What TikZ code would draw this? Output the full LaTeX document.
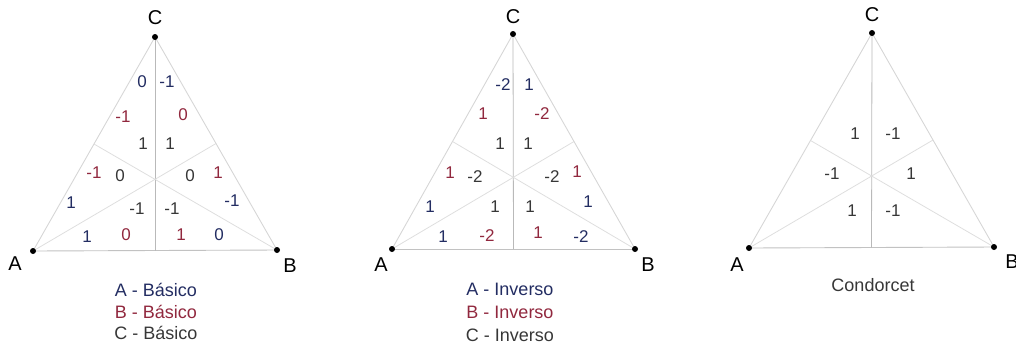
\documentclass[tikz,border=0pt]{standalone}
\usepackage{fontspec}
\setmainfont{Liberation Sans}
\usetikzlibrary{calc}

\definecolor{voteA}{RGB}{35,45,98}
\definecolor{voteB}{RGB}{145,40,62}
\definecolor{voteC}{RGB}{55,55,55}

\begin{document}
\begin{tikzpicture}[x=0.5pt, y=-0.5pt,
		% Côtés et médianes des triangles
		side/.style={draw=gray!32, line width=0.45pt},
		base/.style={draw=gray!48, line width=0.45pt},
		median/.style={draw=gray!26, line width=0.4pt},
		axis/.style={draw=gray!55, line width=0.4pt},
		% Sommets
		vdot/.style={circle, fill=black, inner sep=0pt, minimum size=3pt},
		vname/.style={font=\fontsize{10}{12}\selectfont, text=black},
		% Scores et légendes
		score/.style={font=\fontsize{8.5}{10}\selectfont, text=#1, inner sep=0pt},
		legend/.style={font=\fontsize{9}{11}\selectfont, text=#1}
		]
		\useasboundingbox (0,0) rectangle (1016,349);
		
		% --- TRIANGLE 1 : BASIQUE ---
		\coordinate (A1) at (33,251);
		\coordinate (B1) at (277,250);
		\coordinate (C1) at (155,37);
		\coordinate (mAB1) at ($(A1)!0.5!(B1)$);
		\coordinate (mBC1) at ($(B1)!0.5!(C1)$);
		\coordinate (mAC1) at ($(A1)!0.5!(C1)$);
		
		\draw[side] (A1) -- (C1) -- (B1);
		\draw[base] (A1) -- (B1);
		\draw[axis] (C1) -- (mAB1);
		\draw[median] (A1) -- (mBC1);
		\draw[median] (B1) -- (mAC1);
		
		\node[vdot] (A1d) at (A1) {};
		\node[vdot] (B1d) at (B1) {};
		\node[vdot] (C1d) at (C1) {};
		\node[vname] (A1l) at (15,264) {A};
		\node[vname] (B1l) at (290,266) {B};
		\node[vname] (C1l) at (155,18) {C};
		
		\foreach \x/\y/\v/\c [count=\i] in {142/82/0/voteA, 167/82/-1/voteA,
			123/117/-1/voteB, 183/115/0/voteB, 143/144/1/voteC, 170/144/1/voteC,
			94/173/-1/voteB, 120/176/0/voteC, 190/176/0/voteC, 218/173/1/voteB,
			71/203/1/voteA, 137/209/-1/voteC, 172/209/-1/voteC, 232/201/-1/voteA,
			87/237/1/voteA, 126/235/0/voteB, 181/235/1/voteB, 219/235/0/voteA}
		\node[score=\c] (s1-\i) at (\x,\y) {\v};
		
		\node[legend=voteA] (leg1a) at (156,290) {A - Básico};
		\node[legend=voteB] (leg1b) at (156,312) {B - Básico};
		\node[legend=voteC] (leg1c) at (156,333) {C - Básico};
		
		% --- TRIANGLE 2 : INVERSE ---
		\coordinate (A2) at (392,249);
		\coordinate (B2) at (635,249);
		\coordinate (C2) at (513,34);
		\coordinate (mAB2) at ($(A2)!0.5!(B2)$);
		\coordinate (mBC2) at ($(B2)!0.5!(C2)$);
		\coordinate (mAC2) at ($(A2)!0.5!(C2)$);
		
		\draw[side] (A2) -- (C2) -- (B2);
		\draw[base] (A2) -- (B2);
		\draw[axis] (C2) -- (mAB2);
		\draw[median] (A2) -- (mBC2);
		\draw[median] (B2) -- (mAC2);
		
		\node[vdot] (A2d) at (A2) {};
		\node[vdot] (B2d) at (B2) {};
		\node[vdot] (C2d) at (C2) {};
		\node[vname] (A2l) at (381,265) {A};
		\node[vname] (B2l) at (648,265) {B};
		\node[vname] (C2l) at (513,17) {C};
		
		\foreach \x/\y/\v/\c [count=\i] in {503/85/-2/voteA, 529/85/1/voteA,
			483/114/1/voteB, 542/114/-2/voteB, 500/144/1/voteC, 528/144/1/voteC,
			450/173/1/voteB, 475/177/-2/voteC, 552/177/-2/voteC, 577/172/1/voteB,
			430/207/1/voteA, 495/207/1/voteC, 530/207/1/voteC, 588/202/1/voteA,
			443/237/1/voteA, 487/236/-2/voteB, 538/233/1/voteB, 581/237/-2/voteA}
		\node[score=\c] (s2-\i) at (\x,\y) {\v};
		
		\node[legend=voteA] (leg2a) at (510,289) {A - Inverso};
		\node[legend=voteB] (leg2b) at (510,312) {B - Inverso};
		\node[legend=voteC] (leg2c) at (510,335) {C - Inverso};
		
		% --- TRIANGLE 3 : CONDORCET ---
		\coordinate (A3) at (749,248);
		\coordinate (B3) at (994,247);
		\coordinate (C3) at (872,33);
		\coordinate (mAB3) at ($(A3)!0.5!(B3)$);
		\coordinate (mBC3) at ($(B3)!0.5!(C3)$);
		\coordinate (mAC3) at ($(A3)!0.5!(C3)$);
		
		\draw[side] (A3) -- (C3) -- (B3);
		\draw[base] (A3) -- (B3);
		\draw[axis] (C3) -- (mAB3);
		\draw[median] (A3) -- (mBC3);
		\draw[median] (B3) -- (mAC3);
		
		\node[vdot] (A3d) at (A3) {};
		\node[vdot] (B3d) at (B3) {};
		\node[vdot] (C3d) at (C3) {};
		\node[vname] (A3l) at (737,265) {A};
		\node[vname] (B3l) at (1012,262) {B};
		\node[vname] (C3l) at (872,15) {C};
		
		\foreach \x/\y/\v [count=\i] in {855/134/1, 893/134/-1,
			832/174/-1, 911/174/1, 852/211/1, 893/211/-1}
		\node[score=voteC] (s3-\i) at (\x,\y) {\v};
		
		\node[legend=voteC] (leg3) at (873,285) {Condorcet};
		
	\end{tikzpicture}
\end{document}
